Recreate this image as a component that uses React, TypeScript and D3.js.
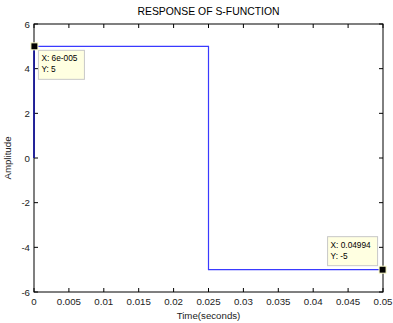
import React, { useRef, useEffect } from 'react';
import * as d3 from 'd3';

const timeValues = [0, 0.00006, 0.025, 0.025, 0.05];
const ampValues = [0, 5, 5, -5, -5];
const xTicks = [0, 0.005, 0.01, 0.015, 0.02, 0.025, 0.03, 0.035, 0.04, 0.045, 0.05];
const yTicks = [-6, -4, -2, 0, 2, 4, 6];
const dataTips = [
  { x: 0.00006, y: 5, lines: ['X: 6e-005', 'Y: 5'], dx: 4, dy: 4 },
  { x: 0.04994, y: -5, lines: ['X: 0.04994', 'Y: -5'], dx: -55, dy: -33 },
];

const W = 393;
const H = 323;

const App = () => {
  const ref = useRef<SVGSVGElement>(null);

  useEffect(() => {
    const svg = d3.select(ref.current);
    svg.selectAll('*').remove();

    const margin = { top: 24, right: 10, bottom: 31, left: 34 };
    const width = W - margin.left - margin.right;
    const height = H - margin.top - margin.bottom;
    const font = 'Liberation Sans, Arial, sans-serif';

    const x = d3.scaleLinear().domain([0, 0.05]).range([0, width]);
    const y = d3.scaleLinear().domain([-6, 6]).range([height, 0]);

    const g = svg.append('g').attr('transform', `translate(${margin.left},${margin.top})`);

    g.append('rect')
      .attr('width', width)
      .attr('height', height)
      .attr('fill', '#fff');

    // data line
    const pts = timeValues.map((t, i) => [t, ampValues[i]] as [number, number]);
    g.append('path')
      .datum(pts)
      .attr('d', d3.line().x(d => x(d[0])).y(d => y(d[1])))
      .attr('fill', 'none')
      .attr('stroke', '#3a3aff')
      .attr('stroke-width', 1.2);

    // ticks inward on all four sides
    const tk = 4;
    xTicks.forEach(t => {
      g.append('line').attr('x1', x(t)).attr('x2', x(t)).attr('y1', height).attr('y2', height - tk).attr('stroke', '#000');
      g.append('line').attr('x1', x(t)).attr('x2', x(t)).attr('y1', 0).attr('y2', tk).attr('stroke', '#000');
      g.append('text')
        .attr('x', x(t))
        .attr('y', height + 13)
        .attr('text-anchor', 'middle')
        .attr('font-family', font)
        .attr('font-size', 9.7)
        .attr('fill', '#222')
        .text(String(t));
    });
    yTicks.forEach(t => {
      g.append('line').attr('x1', 0).attr('x2', tk).attr('y1', y(t)).attr('y2', y(t)).attr('stroke', '#000');
      g.append('line').attr('x1', width).attr('x2', width - tk).attr('y1', y(t)).attr('y2', y(t)).attr('stroke', '#000');
      g.append('text')
        .attr('x', -4)
        .attr('y', y(t) + 3.5)
        .attr('text-anchor', 'end')
        .attr('font-family', font)
        .attr('font-size', 9.7)
        .attr('fill', '#222')
        .text(String(t));
    });

    // frame
    g.append('rect')
      .attr('width', width)
      .attr('height', height)
      .attr('fill', 'none')
      .attr('stroke', '#000')
      .attr('stroke-width', 1);

    // redraw blue over left spine where data runs along it
    g.append('line')
      .attr('x1', x(0)).attr('x2', x(0))
      .attr('y1', y(0)).attr('y2', y(5))
      .attr('stroke', '#1a1aa0')
      .attr('stroke-width', 1.5);

    // data tips
    dataTips.forEach(d => {
      const px = x(d.x);
      const py = y(d.y);
      const bx = px + d.dx;
      const by = py + d.dy;
      g.append('rect')
        .attr('x', bx)
        .attr('y', by)
        .attr('width', d.lines[0].length > 9 ? 50 : 46)
        .attr('height', 29)
        .attr('fill', '#ffffe1')
        .attr('stroke', '#c8c8c8')
        .attr('stroke-width', 1);
      d.lines.forEach((s, i) => {
        g.append('text')
          .attr('x', bx + 3)
          .attr('y', by + 11 + i * 11)
          .attr('font-family', font)
          .attr('font-size', 8.3)
          .attr('fill', '#000')
          .text(s);
      });
      g.append('rect')
        .attr('x', px - 3.5)
        .attr('y', py - 3.5)
        .attr('width', 7)
        .attr('height', 7)
        .attr('fill', '#000')
        .attr('stroke', '#ffffcc')
        .attr('stroke-width', 1);
    });

    // title and labels
    svg.append('text')
      .attr('x', margin.left + width / 2)
      .attr('y', 15)
      .attr('text-anchor', 'middle')
      .attr('font-family', font)
      .attr('font-size', 10.4)
      .attr('fill', '#000')
      .text('RESPONSE OF S-FUNCTION');

    svg.append('text')
      .attr('x', margin.left + width / 2)
      .attr('y', H - 4)
      .attr('text-anchor', 'middle')
      .attr('font-family', font)
      .attr('font-size', 9.7)
      .attr('fill', '#222')
      .text('Time(seconds)');

    svg.append('text')
      .attr('transform', `translate(11,${margin.top + height / 2}) rotate(-90)`)
      .attr('text-anchor', 'middle')
      .attr('font-family', font)
      .attr('font-size', 9.7)
      .attr('fill', '#222')
      .text('Amplitude');
  }, []);

  return (
    <svg
      ref={ref}
      width={W}
      height={H}
      style={{ position: 'absolute', left: 0, top: 0, background: '#fff' }}
    />
  );
};

export default App;
